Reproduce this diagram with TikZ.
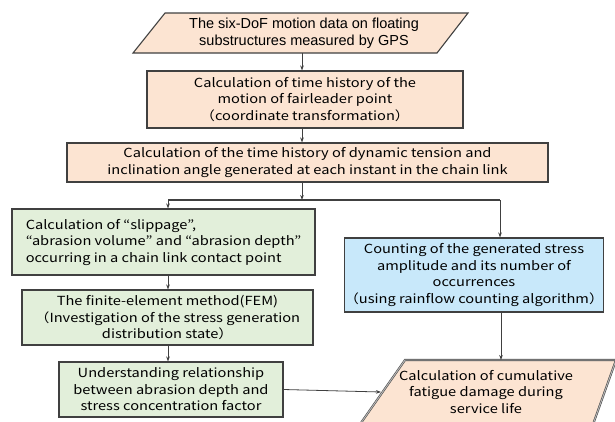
\documentclass[tikz,border=0pt]{standalone}
\usepackage{fontspec}
\setmainfont{Noto Sans CJK JP}[FakeStretch=1.17]
\newfontfamily\arialf{Liberation Sans}
\usetikzlibrary{arrows.meta}
\definecolor{peach}{RGB}{252,228,210}
\definecolor{lgreen}{RGB}{226,239,218}
\definecolor{lblue}{RGB}{200,232,250}
\definecolor{bdr}{RGB}{64,64,64}
\begin{document}
\begin{tikzpicture}[x=1pt,y=-1pt,
  font=\fontsize{12.5}{16.5}\selectfont,
  box/.style={draw=bdr, line width=1.1pt, inner sep=0pt, align=center},
  arr/.style={-{Stealth[length=5pt,width=3.6pt]}, line width=0.8pt, draw=bdr}]
\useasboundingbox (0,0) rectangle (615,421);

% top parallelogram
\fill[peach] (165,13) -- (468,13) -- (437,53) -- (133,53) -- cycle;
\draw[draw=bdr, line width=1.1pt, line join=miter] (165,13) -- (468,13) -- (437,53) -- (133,53) -- cycle;
\node[inner sep=0pt, minimum width=335pt, minimum height=40pt, align=center,
      font=\arialf\fontsize{14.5}{17.5}\selectfont] (topn) at (304,33)
  {The six-DoF motion data on floating\\substructures measured by GPS};

\node[box, fill=peach, minimum width=316pt, minimum height=57pt] (box2) at (305,99.5)
  {Calculation of time history of the\\motion of fairleader point\\（coordinate transformation）};

\node[box, fill=peach, minimum width=481pt, minimum height=39pt] (box3) at (307.5,162.5)
  {Calculation of the time history of dynamic tension and\\inclination angle generated at each instant in the chain link};

\node[box, fill=lgreen, minimum width=303pt, minimum height=66pt, align=left] (g1) at (163.5,242)
  {Calculation of “slippage”,\\“abrasion volume” and “abrasion depth”\\occurring in a chain link contact point};

\node[box, fill=lgreen, minimum width=291pt, minimum height=55pt] (g2) at (167.5,317.5)
  {The finite-element method(FEM)\\（Investigation of the stress generation\\distribution state）};

\node[box, fill=lgreen, minimum width=224pt, minimum height=55pt] (g3) at (171,389.5)
  {Understanding relationship\\between abrasion depth and\\stress concentration factor};

\node[box, fill=lblue, minimum width=256pt, minimum height=74pt] (blue) at (474,275)
  {Counting of the generated stress\\amplitude and its number of\\occurrences\\（using rainflow counting algorithm）};

% bottom parallelogram
\fill[peach] (405,360) -- (616,360) -- (591,430) -- (356,430) -- cycle;
\draw[draw=black!70, double=gray!55, double distance=0.9pt, line width=0.6pt, line join=miter]
  (356,430) -- (405,360) -- (616,360) -- (591,430);
\node[inner sep=0pt, align=center] (bot) at (486,392)
  {Calculation of cumulative\\fatigue damage during\\service life};

% connector coordinates
\coordinate (j) at (302,200);
\coordinate (jl) at (168,200);
\coordinate (jr) at (500,200);
\coordinate (bt) at (501,360);
\coordinate (bl) at (381,392);

\draw[arr] (topn.south -| j) -- (box2.north -| j);
\draw[arr] (box2.south -| j) -- (box3.north -| j);
\draw[arr] (box3.south -| j) -- (j);
\draw[draw=bdr, line width=1.6pt] (jl) -- (jr);
\draw[arr] (jl) -- (g1.north -| jl);
\draw[arr] (jr) -- (blue.north -| jr);
\draw[arr] (g1.south -| jl) -- (g2.north -| jl);
\draw[arr] (g2.south -| jl) -- (g3.north -| jl);
\draw[arr] (blue.south -| bt) -- (bt);
\draw[arr] (g3.east) -- (bl);
\end{tikzpicture}
\end{document}
